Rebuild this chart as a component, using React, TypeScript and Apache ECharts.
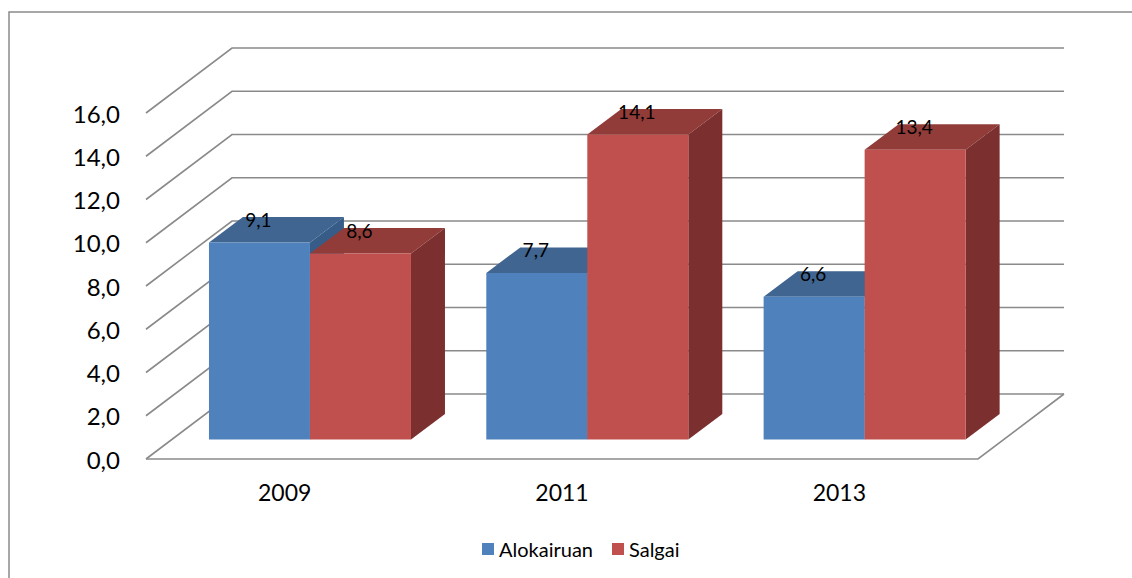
import React, { useEffect, useRef } from "react";
import * as echarts from "echarts";

const categories = ["2009", "2011", "2013"];
const alokairuan = [9.1, 7.7, 6.6];
const salgai = [8.6, 14.1, 13.4];
const yTicks = [0, 2, 4, 6, 8, 10, 12, 14, 16];

const WALL_DX = 86;
const WALL_DY = 65;
const BAR_DX = 34;
const BAR_DY = 25.5;
const BAR_FRONT_DX = 25.3;
const BAR_FRONT_DY = 19.6;
const BAR_RATIO = 0.3642;
const LINE = "#8a8a8a";
const FONT = "Lato";

const fmt = (v: number) => v.toFixed(1).replace(".", ",");

function barSeries(name: string, values: number[], side: number, front: string, top: string, right: string) {
  return {
    type: "custom",
    name,
    silent: true,
    z: 3,
    itemStyle: { color: front },
    encode: { x: 0, y: 1 },
    data: values.map((v, i) => [i, v]),
    renderItem: (_p: any, api: any) => {
      const value = api.value(1);
      const c = api.coord([api.value(0), value]);
      const base = api.coord([api.value(0), 0]);
      const w = api.size([1, 0])[0] * BAR_RATIO;
      const x0 = c[0] + BAR_FRONT_DX + (side === 0 ? -w : 0);
      const x1 = x0 + w;
      const yT = c[1] - BAR_FRONT_DY;
      const yB = base[1] - BAR_FRONT_DY;
      return {
        type: "group",
        children: [
          {
            type: "polygon",
            shape: { points: [[x0, yT], [x0 + BAR_DX, yT - BAR_DY], [x1 + BAR_DX, yT - BAR_DY], [x1, yT]] },
            style: { fill: top },
          },
          {
            type: "polygon",
            shape: { points: [[x1, yT], [x1 + BAR_DX, yT - BAR_DY], [x1 + BAR_DX, yB - BAR_DY], [x1, yB]] },
            style: { fill: right },
          },
          {
            type: "rect",
            shape: { x: x0, y: yT, width: w, height: yB - yT },
            style: { fill: front },
          },
          {
            type: "text",
            style: {
              text: fmt(value),
              x: (x0 + x1) / 2 - 1,
              y: yT - 23,
              align: "center",
              verticalAlign: "middle",
              fontFamily: FONT,
              fontSize: 19,
              fill: "#000",
            },
          },
        ],
      };
    },
  };
}

const wallSeries = {
  type: "custom",
  silent: true,
  z: 1,
  encode: { x: 0, y: 1 },
  data: yTicks.map((t) => [0, t]),
  renderItem: (p: any, api: any) => {
    const v = api.value(1);
    const y = api.coord([0, v])[1];
    const L = p.coordSys.x;
    const R = L + p.coordSys.width;
    const lineStyle = { stroke: LINE, lineWidth: 1.6, fill: "none" };
    const children: any[] = [
      {
        type: "polyline",
        shape: { points: [[L, y], [L + WALL_DX, y - WALL_DY], [R + WALL_DX, y - WALL_DY]] },
        style: lineStyle,
      },
    ];
    if (v === 0) {
      children.push({
        type: "polyline",
        shape: { points: [[L, y], [R, y], [R + WALL_DX, y - WALL_DY]] },
        style: lineStyle,
      });
    }
    return { type: "group", children };
  },
};

export default function App() {
  const ref = useRef<HTMLDivElement>(null);
  useEffect(() => {
    document.body.style.margin = "0";
    const chart = echarts.init(ref.current!, undefined, { renderer: "svg" });
    chart.setOption({
      animation: false,
      backgroundColor: "#fff",
      grid: { left: 146, top: 113, width: 832, height: 346, containLabel: false },
      graphic: [
        {
          type: "polyline",
          shape: { points: [[9, 578], [9, 12], [1132, 12]] },
          style: { stroke: "#8a8a8a", lineWidth: 1.5, fill: "none" },
        },
      ],
      legend: {
        data: ["Alokairuan", "Salgai"],
        left: 477,
        top: 534,
        itemWidth: 12,
        itemHeight: 12,
        itemGap: 19,
        icon: "rect",
        textStyle: { fontFamily: FONT, fontSize: 20, color: "#000" },
      },
      xAxis: {
        type: "category",
        data: categories,
        axisLine: { show: false },
        axisTick: { show: false },
        splitLine: { show: false },
        axisLabel: { fontFamily: FONT, fontSize: 23, color: "#000", margin: 21 },
      },
      yAxis: {
        type: "value",
        min: 0,
        max: 16,
        interval: 2,
        axisLine: { show: false },
        axisTick: { show: false },
        splitLine: { show: false },
        axisLabel: { fontFamily: FONT, fontSize: 24, color: "#000", margin: 26, formatter: (v: number) => fmt(v) },
      },
      series: [
        wallSeries,
        barSeries("Alokairuan", alokairuan, 0, "#4f81bd", "#3f6590", "#375c88"),
        barSeries("Salgai", salgai, 1, "#c0504d", "#923c3a", "#7b302f"),
      ],
    });
    return () => chart.dispose();
  }, []);
  return <div ref={ref} style={{ position: "fixed", left: 0, top: 0, width: 1132, height: 578 }} />;
}
